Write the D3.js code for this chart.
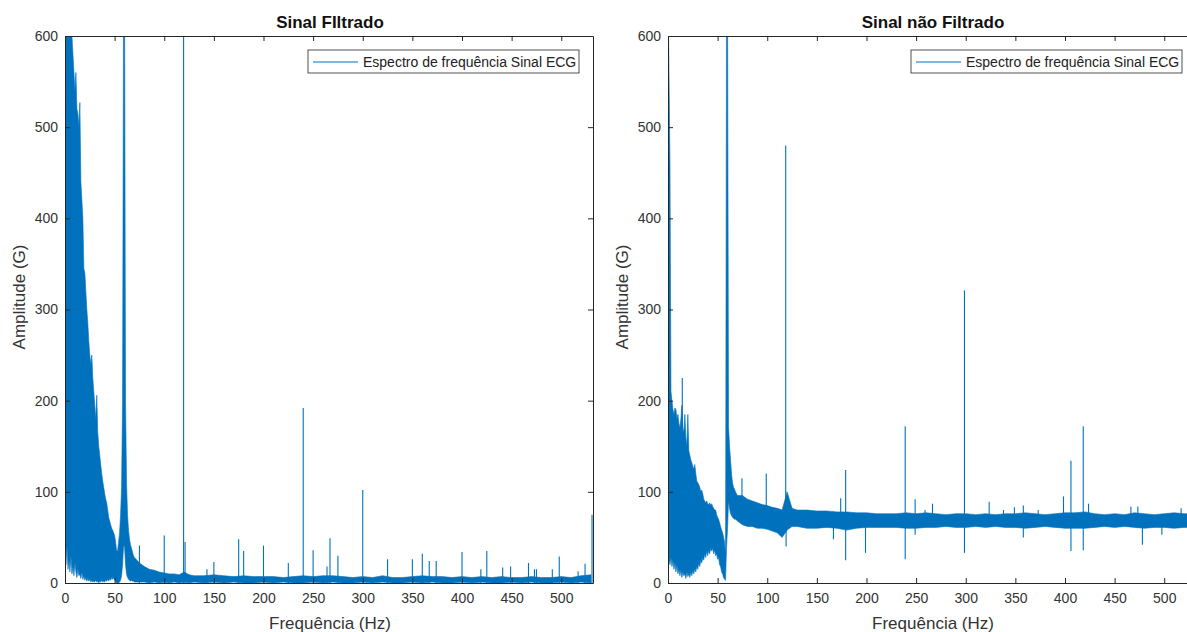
<!DOCTYPE html>
<html>
<head>
<meta charset="utf-8">
<style>
  body { margin: 0; background: #fff; overflow: hidden; }
  text { font-family: "Liberation Sans", Arial, Helvetica, sans-serif; }
</style>
</head>
<body>
<div id="chart"></div>
<script src="https://d3js.org/d3.v7.min.js"></script>
<script>

// frequency bins (Hz) of the spectrum envelope
const freqGrid = [0,1,2,3,4,5,6,7,8,9,10,11,12,13,14,15,16,17,18,19,20,21,22,23,24,25,26,27,28,29,
  30,31,32,33,34,35,36,37,38,39,40,41,42,43,44,45,46,47,48,49,50,51,52,53,54,55,56,57,58,59,
  60,61,62,63,64,65,66,67,68,69,70,
  75,80,85,90,95,100,105,110,115,120,125,130,
  140,150,160,170,180,190,200,210,220,230,240,250,260,270,280,290,300,310,320,330,
  340,350,360,370,380,390,400,410,420,430,440,450,460,470,480,490,500,510,520,530];

// "Sinal FIltrado" : upper / lower envelope of the noise
const hiFilt = [650,650,650,650,650,650,620,600,580,560,540,560,520,515,500,527,440,420,400,345,
  340,320,300,285,265,250,240,250,225,210,195,180,206,165,150,140,130,120,112,105,
  98,92,88,80,72,68,64,60,58,55,52,45,35,35,45,55,75,105,200,650,
  650,200,110,75,58,48,42,38,34,30,28,
  22,18,15,14,12,11,10,10,9,12,9,8,
  8,9,8,7,8,7,7,7,6,7,8,7,8,8,7,6,7,6,8,6,
  6,7,8,7,7,6,7,6,7,6,7,6,6,7,6,6,7,6,8,9];
const loFilt = [30,20,40,15,25,12,30,10,18,8,22,12,6,15,8,10,5,12,4,8,
  3,6,2,5,2,4,1,3,1,2,1,3,1,2,0,2,1,3,1,2,
  1,3,2,4,2,5,3,6,4,6,3,2,0,0,0,1,3,8,20,40,
  40,20,10,6,4,3,2,3,2,2,1,
  1,1,0,1,0,1,0,1,0,1,0,1,
  0,1,0,1,0,0,1,0,1,0,0,1,0,1,0,0,1,0,1,0,
  0,1,0,1,0,0,1,0,1,0,0,1,0,1,0,0,1,0,1,0];
const spikeFiltHz  = [75,100,119.5,121,143,150,175,180,200,225,240,250,264,267,275,300,325,350,360,367,
  374,400,419,425,441,449,467,473,475,491,498,517,524,531];
const spikeFiltAmp = [41,52,650,45,15,23,48,35,41,22,192,36,18,49,30,102,26,26,32,24,
  24,34,15,35,17,18,22,15,15,15,29,13,21,75];

// "Sinal não Filtrado"
const hiRaw = [650,560,460,210,200,190,185,192,190,180,185,175,170,180,195,170,165,185,160,150,
  185,145,140,135,132,128,125,130,120,112,110,108,105,100,102,98,92,90,88,90,
  87,86,88,85,87,84,82,80,80,75,72,70,66,62,58,55,50,45,30,650,
  650,172,150,135,120,110,105,103,100,98,96,
  96,92,90,88,86,85,83,82,80,100,82,80,
  80,79,79,78,78,77,77,76,76,76,77,76,77,76,75,76,76,75,76,75,
  76,76,77,76,75,76,77,77,78,76,75,76,75,77,76,75,76,77,76,76];
const loRaw = [30,25,20,28,18,25,15,22,12,20,10,15,8,14,6,12,8,10,5,12,
  7,10,6,12,8,14,10,16,12,18,15,22,18,25,22,28,25,32,28,35,
  30,36,32,38,35,38,32,36,30,32,26,28,20,18,12,10,6,4,3,40,
  60,90,82,76,74,72,71,70,70,69,68,
  64,62,62,60,60,59,57,55,50,58,62,62,
  60,60,61,60,58,60,61,61,61,61,60,60,61,61,62,61,61,62,61,62,
  61,61,60,61,62,61,60,60,60,61,62,61,62,61,60,61,61,60,61,61];
const spikeUpHz  = [14.4,74.5,99,118.6,174,179,239,249,259,266.5,298.7,323.6,338,349,358,373,398.5,406,418.4,423.7,
  466.4,473.4,517];
const spikeUpAmp = [225,115,120,480,93,124,172,92,80,87,321,89,80,83,85,80,95,134,172,87,
  84,84,82];
const spikeDownHz  = [119,166.7,179,199,239,249,298.7,358,406,418.4,478,497.6];
const spikeDownAmp = [40,48,25,33,26,53,33,50,35,36,42,53];

const xTicks = [0,50,100,150,200,250,300,350,400,450,500];
const yTicks = [0,100,200,300,400,500,600];

const width = 1187, height = 632;
const axisColor = "#262626";
const lineColor = "#0072BD";
const plotW = 528, plotTop = 36, plotBottom = 583;

const svg = d3.select("#chart").append("svg")
  .attr("width", width)
  .attr("height", height);

const y = d3.scaleLinear().domain([0, 600]).range([plotBottom, plotTop]);

const panels = [
  { left: 65, title: "Sinal FIltrado", hi: hiFilt, lo: loFilt,
    up: spikeFiltHz.map((f, i) => [f, spikeFiltAmp[i]]), down: [], base: 0 },
  { left: 668, title: "Sinal não Filtrado", hi: hiRaw, lo: loRaw,
    up: spikeUpHz.map((f, i) => [f, spikeUpAmp[i]]),
    down: spikeDownHz.map((f, i) => [f, spikeDownAmp[i]]), base: 68 }
];

panels.forEach((p, idx) => {
  const x = d3.scaleLinear().domain([0, 532]).range([p.left, p.left + plotW]);
  const g = svg.append("g");

  svg.append("clipPath").attr("id", "clip" + idx)
    .append("rect")
    .attr("x", p.left).attr("y", plotTop)
    .attr("width", plotW).attr("height", plotBottom - plotTop);

  const plot = g.append("g").attr("clip-path", `url(#clip${idx})`);

  const band = freqGrid.map((f, i) => ({ f: f, lo: p.lo[i], hi: p.hi[i] }));
  plot.append("path")
    .datum(band)
    .attr("fill", lineColor)
    .attr("stroke", lineColor)
    .attr("stroke-width", 0.6)
    .attr("d", d3.area()
      .x(d => x(d.f))
      .y0(d => y(d.lo))
      .y1(d => y(d.hi)));

  plot.selectAll()
    .data(p.up.concat(p.down))
    .enter().append("line")
    .attr("x1", d => x(d[0])).attr("x2", d => x(d[0]))
    .attr("y1", y(p.base)).attr("y2", d => y(d[1]))
    .attr("stroke", lineColor)
    .attr("stroke-width", 1.1);

  // axes, box with inward ticks
  const styleAxis = sel => {
    sel.attr("font-size", 14)
      .attr("font-family", '"Liberation Sans", Arial, sans-serif');
    sel.selectAll("path, line").attr("stroke", axisColor);
    sel.selectAll("text").attr("fill", "#333");
  };

  g.append("g").attr("transform", `translate(0,${plotBottom})`)
    .call(d3.axisBottom(x).tickValues(xTicks).tickSize(-5).tickSizeOuter(0).tickPadding(10))
    .call(styleAxis);
  g.append("g").attr("transform", `translate(0,${plotTop})`)
    .call(d3.axisTop(x).tickValues(xTicks).tickSize(-5).tickSizeOuter(0).tickFormat(""))
    .call(styleAxis);
  g.append("g").attr("transform", `translate(${p.left},0)`)
    .call(d3.axisLeft(y).tickValues(yTicks).tickSize(-5).tickSizeOuter(0).tickPadding(7))
    .call(styleAxis);
  g.append("g").attr("transform", `translate(${p.left + plotW},0)`)
    .call(d3.axisRight(y).tickValues(yTicks).tickSize(-5).tickSizeOuter(0).tickFormat(""))
    .call(styleAxis);

  // titles & labels
  g.append("text")
    .attr("x", p.left + 265).attr("y", 28)
    .attr("text-anchor", "middle")
    .attr("font-size", 17).attr("font-weight", "bold")
    .attr("fill", "#111")
    .text(p.title);

  g.append("text")
    .attr("x", p.left + 265).attr("y", 629)
    .attr("text-anchor", "middle")
    .attr("font-size", 17)
    .attr("fill", "#333")
    .text("Frequência (Hz)");

  g.append("text")
    .attr("transform", `translate(${p.left - 40},297) rotate(-90)`)
    .attr("text-anchor", "middle")
    .attr("font-size", 17)
    .attr("fill", "#333")
    .text("Amplitude (G)");

  // legend
  const lg = g.append("g").attr("transform", `translate(${p.left + 243},50)`);
  lg.append("rect")
    .attr("width", 271).attr("height", 23)
    .attr("fill", "#fff")
    .attr("stroke", axisColor).attr("stroke-width", 0.8);
  lg.append("line")
    .attr("x1", 5).attr("x2", 50).attr("y1", 12).attr("y2", 12)
    .attr("stroke", lineColor).attr("stroke-width", 1.1);
  lg.append("text")
    .attr("x", 55).attr("y", 17)
    .attr("font-size", 14)
    .attr("fill", "#222")
    .text("Espectro de frequência Sinal ECG");
});
</script>
</body>
</html>
